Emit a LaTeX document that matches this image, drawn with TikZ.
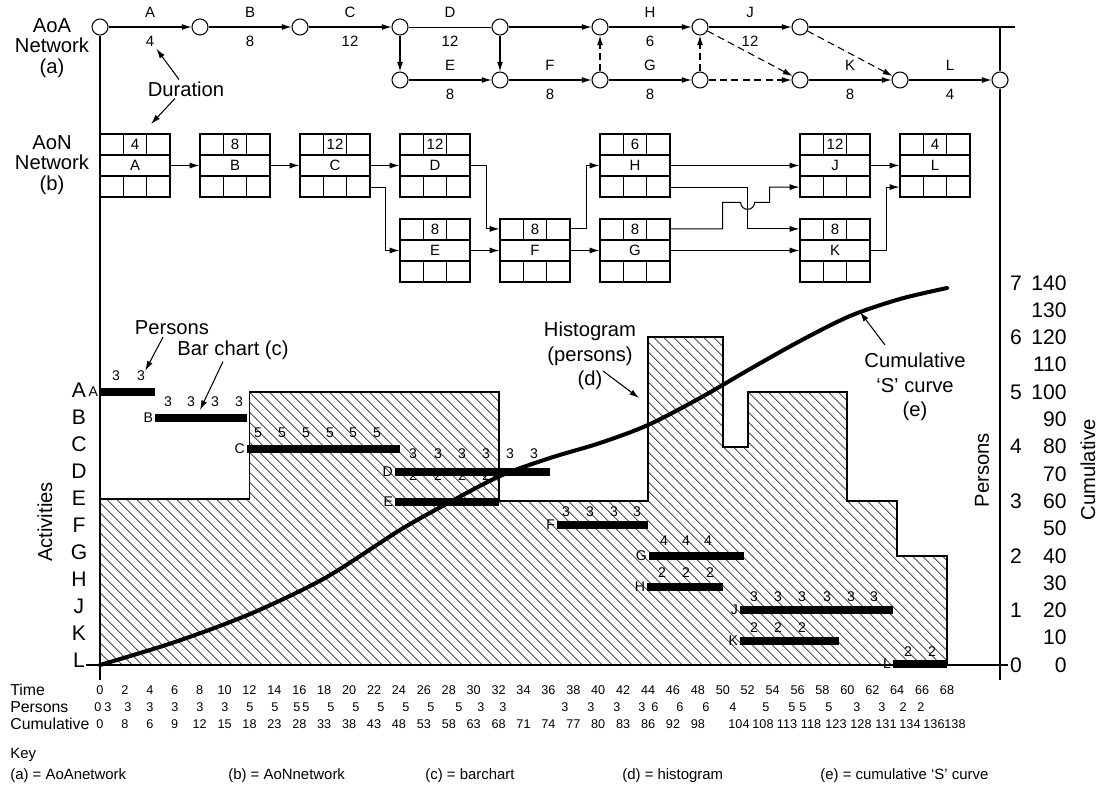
\documentclass[tikz,border=0pt]{standalone}
\usepackage{fontspec}
\setmainfont{Liberation Sans}
\usetikzlibrary{positioning,arrows.meta,calc,patterns.meta}
\tikzset{
  ev/.style={circle, draw, line width=0.6pt, minimum size=0.32cm, inner sep=0pt},
  arr/.style={-{Latex[length=5.5pt,width=3.4pt]}, line width=0.6pt},
  dum/.style={arr, dash pattern=on 4pt off 2.5pt},
  aoalab/.style={font=\fontsize{8.5}{9}\selectfont, inner sep=1pt},
  aon/.style={draw, line width=0.7pt, minimum width=1.4cm, minimum height=1.26cm, inner sep=0pt,
    font=\fontsize{8.5}{9}\selectfont,
    path picture={
      \coordinate (pc) at (path picture bounding box.center);
      \draw[line width=1pt] ([shift={(-40,-10.5)}]pc) -- ++(80,0)
                            ([shift={(-40,10.5)}]pc) -- ++(80,0);
      \foreach \cx in {-11.67,11.67}
        \draw[line width=0.7pt] ([shift={(\cx,-35)}]pc) -- ++(0,24.5)
                                ([shift={(\cx,10.5)}]pc) -- ++(0,24.5);
    }},
  boxnum/.style={font=\fontsize{8.5}{9}\selectfont, inner sep=0pt},
  big/.style={font=\fontsize{11.5}{11.5}\selectfont, inner sep=1pt},
  bigl/.style={font=\fontsize{11.5}{14}\selectfont, inner sep=1pt, align=center},
  letter/.style={font=\fontsize{12}{12}\selectfont, inner sep=0pt},
  axnum/.style={font=\fontsize{12}{12}\selectfont, inner sep=0pt},
  actbar/.style={line width=4pt},
  tag/.style={font=\fontsize{8}{8}\selectfont, inner sep=0pt, anchor=east},
  num/.style={font=\fontsize{8}{8}\selectfont, inner sep=0pt},
  tabname/.style={font=\fontsize{9}{9}\selectfont, inner sep=0pt, anchor=west},
  tab/.style={font=\fontsize{7.2}{8}\selectfont, inner sep=0pt},
  keyt/.style={font=\fontsize{8.5}{9}\selectfont, inner sep=0pt, anchor=west},
  histo/.style={line width=1.1pt, pattern={Lines[angle=-45,distance=4pt,line width=0.4pt]}},
  scurve/.style={line width=2.3pt, line cap=round},
}

\begin{document}
\begin{tikzpicture}[x=0.02cm, y=-0.02cm]
  \useasboundingbox (0,0) rectangle (1104,791);

  % ---- (a) activity-on-arrow network ------------------------------
  \node[big, align=center] (aoaname) at (52,48) {AoA\\Network\\(a)};
  \foreach \n/\x/\y in {e1/100/27, e2/200/27, e3/300/27, e4/400/27, e5/500/27,
                        e6/600/27, e7/700/27, e8/800/27, f4/400/80, f5/500/80,
                        f6/600/80, f7/700/80, f8/800/80, f9/900/80, f10/1000/80}
    \node[ev] (\n) at (\x,\y) {};

  \draw[arr] (e1) -- node[aoalab, above=4pt] (actA) {A} node[aoalab, below=4pt] (durA) {4} (e2);
  \draw[arr] (e2) -- node[aoalab, above=4pt] (actB) {B} node[aoalab, below=4pt] (durB) {8} (e3);
  \draw[arr] (e3) -- node[aoalab, above=4pt] (actC) {C} node[aoalab, below=4pt] (durC) {12} (e4);
  \draw      (e4) -- node[aoalab, above=4pt] (actD) {D} node[aoalab, below=4pt] (durD) {12} (e5);
  \draw[arr] (e5) -- (e6);
  \draw[arr] (e4) -- (f4);
  \draw[arr] (e5) -- (f5);
  \draw[arr] (f4) -- node[aoalab, above=4pt] (actE) {E} node[aoalab, below=4pt] (durE) {8} (f5);
  \draw[arr] (f5) -- node[aoalab, above=4pt] (actF) {F} node[aoalab, below=4pt] (durF) {8} (f6);
  \draw[arr] (e6) -- node[aoalab, above=4pt] (actH) {H} node[aoalab, below=4pt] (durH) {6} (e7);
  \draw[arr] (f6) -- node[aoalab, above=4pt] (actG) {G} node[aoalab, below=4pt] (durG) {8} (f7);
  \draw[arr] (e7) -- node[aoalab, above=4pt] (actJ) {J} node[aoalab, below=4pt] (durJ) {12} (e8);
  \draw[arr] (f8) -- node[aoalab, above=4pt] (actK) {K} node[aoalab, below=4pt] (durK) {8} (f9);
  \draw[arr] (f9) -- node[aoalab, above=4pt] (actL) {L} node[aoalab, below=4pt] (durL) {4} (f10);
  % dummies
  \draw[dum] (f6) -- (e6);
  \draw[dum] (f7) -- (e7);
  \draw[dum] (e7) -- (f8);
  \draw[dum] (f7) -- (f8);
  \draw[dum] (e8) -- (f9);

  % frame lines
  \coordinate (topend) at (1015,27);
  \coordinate (rtop) at (1000,27);
  \coordinate (rbot) at (1000,680);
  \coordinate (lbot) at (100,680);
  \draw[line width=0.6pt] (e8) -- (topend);
  \draw[line width=0.6pt] (rtop) -- (f10) -- (rbot);
  \draw[line width=0.6pt] (e1) -- (lbot);

  \node[big] (dur) at (186,89) {Duration};
  \coordinate (durtip) at (151,124);
  \draw[arr] ([xshift=-0.14cm]dur.north) -- (durA.south east);
  \draw[arr] ([xshift=-0.22cm]dur.south) -- (durtip);

  % ---- (b) activity-on-node network -------------------------------
  \node[big, align=center] (aonname) at (52,165) {AoN\\Network\\(b)};
  \foreach \n/\x/\y/\d in {A/135/165.5/4, B/235/165.5/8, C/335/165.5/12, D/435/165.5/12,
                           E/435/250.5/8, F/535/250.5/8, G/635/250.5/8, H/635/165.5/6,
                           J/835/165.5/12, K/835/250.5/8, L/935/165.5/4}
  {
    \node[aon] (n\n) at (\x,\y) {\n};
    \node[boxnum] (d\n) at ([yshift=-0.21cm]n\n.north) {\d};
  }
  \draw[arr] (nA) -- (nB);
  \draw[arr] (nB) -- (nC);
  \draw[arr] (nC) -- (nD);
  \draw[arr] (nE) -- (nF);
  \draw[arr] (nF) -- (nG);
  \draw[arr] (nH) -- (nJ);
  \draw[arr] (nG) -- (nK);
  \draw[arr] (nJ) -- (nL);
  \draw[arr] ([yshift=0.21cm]nC.south east) -- ++(15,0) |- (nE.west);
  \draw[arr] (nD.east) -- ++(16,0) |- ([yshift=-0.21cm]nF.north west);
  \draw[arr] ([yshift=-0.21cm]nF.north east) -- ++(16,0) |- (nH.west);
  \draw[arr] ([yshift=0.21cm]nH.south east) -- ++(77,0) |- ([yshift=-0.21cm]nK.north west);
  \draw[arr] ([yshift=-0.21cm]nG.north east) -- ++(52,0) -- ++(0,-26.5) -- ++(18,0)
             arc[start angle=180, end angle=0, radius=7] -- ++(15,0)
             |- ([yshift=0.21cm]nJ.south west);
  \draw[arr] (nK.east) -- ++(16,0) |- ([yshift=0.21cm]nL.south west);

  % ---- (d) histogram ---------------------------------------------
  \draw[histo] (100,665) -- (100,499) -- (249.5,499) -- (249.5,392) -- (498.6,392)
    -- (498.6,501.2) -- (648.1,501.2) -- (648.1,337.4) -- (722.8,337.4) -- (722.8,446.6)
    -- (747.7,446.6) -- (747.7,392) -- (847.4,392) -- (847.4,501.2) -- (897.2,501.2)
    -- (897.2,555.8) -- (947,555.8) -- (947,665) -- cycle;

  % axes
  \coordinate (base0) at (86,665);
  \coordinate (base1) at (1008,665);
  \draw[line width=0.6pt] (base0) -- (base1);
  \node[big, rotate=90] (actname) at (45,522) {Activities};
  \foreach \l [count=\i from 0] in {A,B,C,D,E,F,G,H,J,K,L}
    \node[letter] (r\l) at (79,{390+27*\i}) {\l};
  \node[big, rotate=90] (persname) at (982,470) {Persons};
  \node[big, rotate=90] (cumname) at (1088,470) {Cumulative};
  \foreach \p in {0,...,7}
    \node[axnum] (yp\p) at (1016,{665-54.6*\p}) {\p};
  \foreach \c in {0,10,...,140}
    \node[axnum, anchor=east] (yc\c) at (1067,{665-2.73*\c}) {\c};

  % ---- (c) bar chart ----------------------------------------------
  \foreach \n/\xa/\xb/\y in {A/100/155/392, B/155/247/418, C/247/400/449, D/395/550/472,
                             E/395/499/502, F/557/648/525, G/649/744/556, H/647/723/587,
                             J/740/893/610, K/740/839/641, L/893/947/664}
  {
    \coordinate (s\n) at (\xa,\y);
    \coordinate (t\n) at (\xb,\y);
    \draw[actbar] (s\n) -- (t\n);
    \node[tag] (g\n) at ([xshift=-1pt]s\n) {\n};
  }
  \foreach \y/\v/\xs in {376/3/{116,141}, 402/3/{168,191,215,239},
                         433/5/{258,282,306,330,353,377}, 454/3/{413,438,462,486,510,534},
                         476/2/{413,438,462,486}, 512/3/{566,590,614,637},
                         541/4/{664,686,708}, 573/2/{662,686,710},
                         597/3/{754,778,802,827,851,874}, 628/2/{754,778,802}, 652/2/{908,932}}
    \foreach \x in \xs
      \node[num] (q\x-\y) at (\x,\y) {\v};

  % ---- (e) cumulative S curve -------------------------------------
  \draw[scurve] plot[smooth, tension=0.5] coordinates {
    (100,665) (175,642) (250,614) (325,578) (400,530) (450,502) (500,476)
    (550,458) (600,443) (648,425) (700,398) (750,369) (800,341) (850,316)
    (900,299) (947,288)};

  % ---- annotations ------------------------------------------------
  \node[big] (persnote) at (172,328) {Persons};
  \draw[arr] ([xshift=-0.18cm]persnote.south) -- (q141-376.north east);
  \node[big] (barnote) at (233,350) {Bar chart (c)};
  \coordinate (bartip) at (200,410);
  \draw[arr] ([xshift=-0.2cm]barnote.south) -- (bartip);
  \node[bigl] (histnote) at (590,356) {Histogram\\(persons)\\(d)};
  \coordinate (histtip) at (639,398);
  \draw[arr] ([shift={(13,15)}]histnote.center) -- (histtip);
  \node[bigl] (curvenote) at (915,387) {Cumulative\\`S' curve\\(e)};
  \coordinate (curvetip) at (860,312);
  \draw[arr] ([shift={(-30,-42)}]curvenote.center) -- (curvetip);

  % ---- table ------------------------------------------------------
  \node[tabname] (timename) at (10,690) {Time};
  \node[tabname] (prsname) at (10,707) {Persons};
  \node[tabname] (cuname) at (10,724) {Cumulative};
  \foreach \t in {0,2,...,68}
    \node[tab] (tm\t) at ({100+12.456*\t},690) {\t};
  \foreach \v/\x [count=\i] in {0/98, 3/108, 3/128, 3/150, 3/175, 3/200, 3/225,
      5/250, 5/275, 5/297, 5/306, 5/331, 5/356, 5/381, 5/406, 5/431, 5/459,
      3/481, 3/503, 3/565, 3/591, 3/617, 3/642, 6/655, 6/680, 6/706, 4/733,
      5/766, 5/792, 5/803, 5/829, 3/857, 3/882, 2/903, 2/921}
    \node[tab] (pr\i) at (\x,707) {\v};
  \foreach \v/\x [count=\i] in {0/100, 8/124.9, 6/149.8, 9/174.7, 12/199.6, 15/224.6,
      18/249.5, 23/274.4, 28/299.3, 33/324.2, 38/349.1, 43/374, 48/398.9, 53/423.9,
      58/448.8, 63/473.7, 68/498.6, 71/523.5, 74/548.4, 77/573.3, 80/598.2, 83/623.2,
      86/648.1, 92/673, 98/697.9, 104/739, 108/763, 113/787, 118/811, 123/836,
      128/861, 131/886, 134/910, 136/934, 138/955}
    \node[tab] (cu\i) at (\x,724) {\v};

  % ---- key --------------------------------------------------------
  \node[keyt] (keyname) at (10,755) {Key};
  \node[keyt] (keya) at (10,776) {(a) = AoAnetwork};
  \node[keyt] (keyb) at (228,776) {(b) = AoNnetwork};
  \node[keyt] (keyc) at (425,776) {(c) = barchart};
  \node[keyt] (keyd) at (622,776) {(d) = histogram};
  \node[keyt] (keye) at (820,776) {(e) = cumulative `S' curve};
\end{tikzpicture}
\end{document}
